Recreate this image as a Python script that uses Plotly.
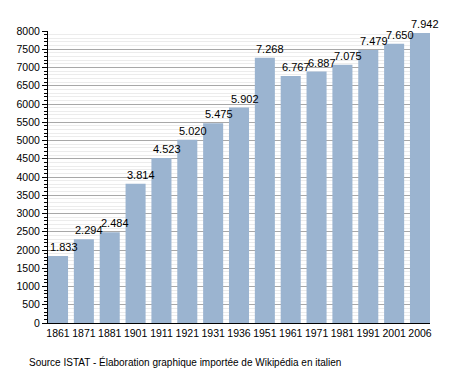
import plotly.graph_objects as go

years = ["1861","1871","1881","1901","1911","1921","1931","1936","1951","1961","1971","1981","1991","2001","2006"]
population = [1833, 2294, 2484, 3814, 4523, 5020, 5475, 5902, 7268, 6767, 6887, 7075, 7479, 7650, 7942]
labels = ["1.833","2.294","2.484","3.814","4.523","5.020","5.475","5.902","7.268","6.767","6.887","7.075","7.479","7.650","7.942"]
y_ticks = list(range(0, 8001, 500))
source_text = "Source ISTAT - Élaboration graphique importée de Wikipédia en italien"

BARGAP = 0.225

fig = go.Figure()
fig.add_trace(go.Bar(
    x=years, y=population,
    marker=dict(color="#9bb4d0", line=dict(width=0)),
))
annotations = [dict(x=i, y=v, text=t, xref="x", yref="y", xanchor="left", yanchor="bottom",
                    xshift=-10.5, yshift=1, showarrow=False, font=dict(size=11, color="black"))
               for i, (v, t) in enumerate(zip(population, labels))]
annotations.append(dict(text=source_text, xref="paper", yref="paper", x=-0.054, y=-0.132,
                        xanchor="left", yanchor="middle", showarrow=False,
                        font=dict(size=10, color="black")))
fig.update_layout(
    width=450, height=365,
    margin=dict(l=40, r=28, t=23, b=50),
    paper_bgcolor="white", plot_bgcolor="white",
    font=dict(family="Liberation Sans, Arial, sans-serif", size=11, color="black"),
    bargap=BARGAP, showlegend=False,
    annotations=annotations,
)
fig.update_xaxes(showline=True, linecolor="black", linewidth=1, ticks="", showgrid=False,
                 tickfont=dict(size=10.5), type="category", tickangle=0, automargin=False,
                 range=[-0.5 + BARGAP / 2, len(years) - 0.5 - BARGAP / 2])
fig.update_yaxes(range=[0, 8000], tickvals=y_ticks, showline=True, linecolor="black", linewidth=1,
                 ticks="outside", ticklen=5, tickcolor="black", automargin=False,
                 showgrid=True, gridcolor="#a8a8a8", gridwidth=1,
                 minor=dict(dtick=100, showgrid=True, gridcolor="#ececec", ticks="outside", ticklen=3, tickcolor="black"),
                 tickfont=dict(size=10.5), zeroline=False)
fig.write_html("out.html")
